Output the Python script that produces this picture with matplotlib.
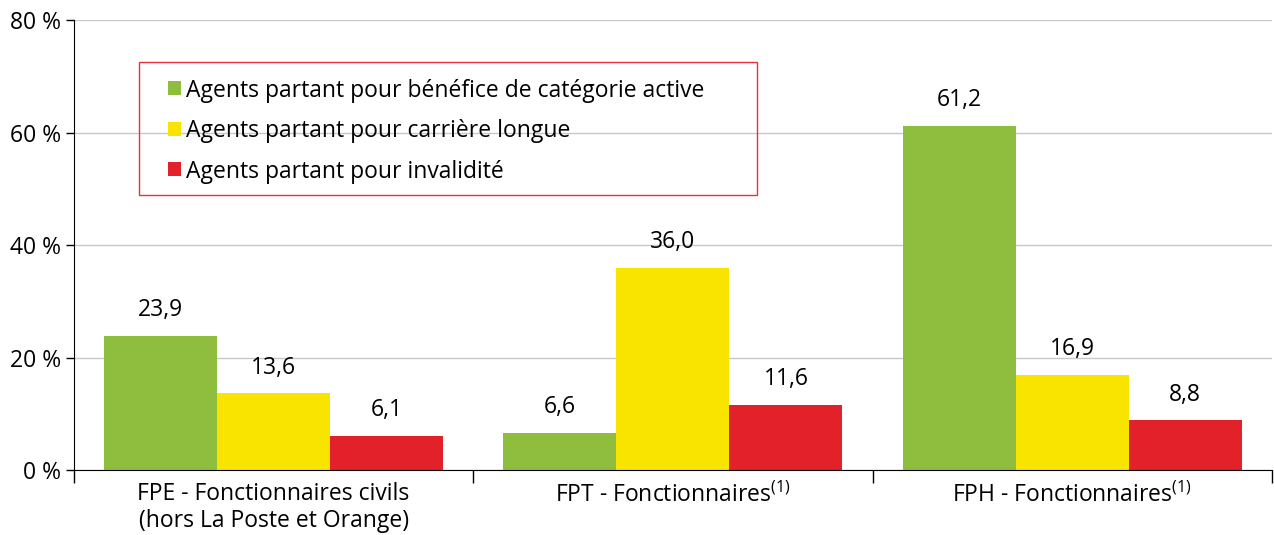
import numpy as np
import matplotlib.pyplot as plt
from matplotlib.patches import Rectangle

plt.rcParams['font.family'] = ['Open Sans', 'DejaVu Sans']
plt.rcParams['mathtext.fontset'] = 'custom'
plt.rcParams['mathtext.rm'] = 'Open Sans'

categories = ['FPE - Fonctionnaires civils\n(hors La Poste et Orange)',
              'FPT - Fonctionnaires$^{\\mathrm{(1)}}$',
              'FPH - Fonctionnaires$^{\\mathrm{(1)}}$']
series = ['Agents partant pour bénéfice de catégorie active',
          'Agents partant pour carrière longue',
          'Agents partant pour invalidité']
active = [23.9, 6.6, 61.2]
longue = [13.6, 36.0, 16.9]
invalid = [6.1, 11.6, 8.8]
colors = ['#8fbe3f', '#f9e400', '#e3212b']

fs = 16.5

fig = plt.figure(figsize=(12.74, 5.35), dpi=100)
ax = fig.add_axes([0.058, 0.1215, 0.9404, 0.8411])

x = np.arange(len(categories))
w = 0.283
for i, (vals, name) in enumerate(zip([active, longue, invalid], series)):
    pos = x + (i - 1) * w
    ax.bar(pos, vals, width=w, color=colors[i], label=name, zorder=2)
    for p, v in zip(pos, vals):
        ax.annotate(f'{v:.1f}'.replace('.', ','), (p, v), xytext=(0, 10),
                    textcoords='offset points', ha='center', va='bottom',
                    fontsize=fs)

ax.set_xlim(-0.5, 2.5)
ax.set_ylim(0, 80)
ax.set_yticks([0, 20, 40, 60, 80])
ax.set_yticklabels(['0 %', '20 %', '40 %', '60 %', '80 %'], fontsize=fs)
ax.yaxis.grid(True, color='#c8c8c8', linewidth=1, zorder=0)
ax.set_axisbelow(True)

# category labels centred, ticks on the group boundaries
ax.set_xticks([-0.5, 0.5, 1.5, 2.5])
ax.set_xticklabels([])
ax.set_xticks(x, minor=True)
ax.set_xticklabels(categories, minor=True, fontsize=fs, linespacing=1.12)
ax.tick_params(axis='x', which='minor', length=0, pad=9)
ax.tick_params(axis='x', which='major', length=9, width=1)
ax.tick_params(axis='y', length=6, width=1, pad=3)

for s in ['top', 'right']:
    ax.spines[s].set_visible(False)

# legend without its own frame, boxed by a separate red rectangle
leg = ax.legend(loc='upper left', bbox_to_anchor=(0.0785, 0.87), fontsize=fs,
                frameon=False, handlelength=0.55, handleheight=0.55,
                handletextpad=0.25, labelspacing=0.72, borderpad=0,
                borderaxespad=0)
ax.add_patch(Rectangle((0.0543, 0.611), 0.5158, 0.2956, transform=ax.transAxes,
                       fill=False, edgecolor='#e8303a', linewidth=1, zorder=5))

fig.savefig('out.png', dpi=100)
